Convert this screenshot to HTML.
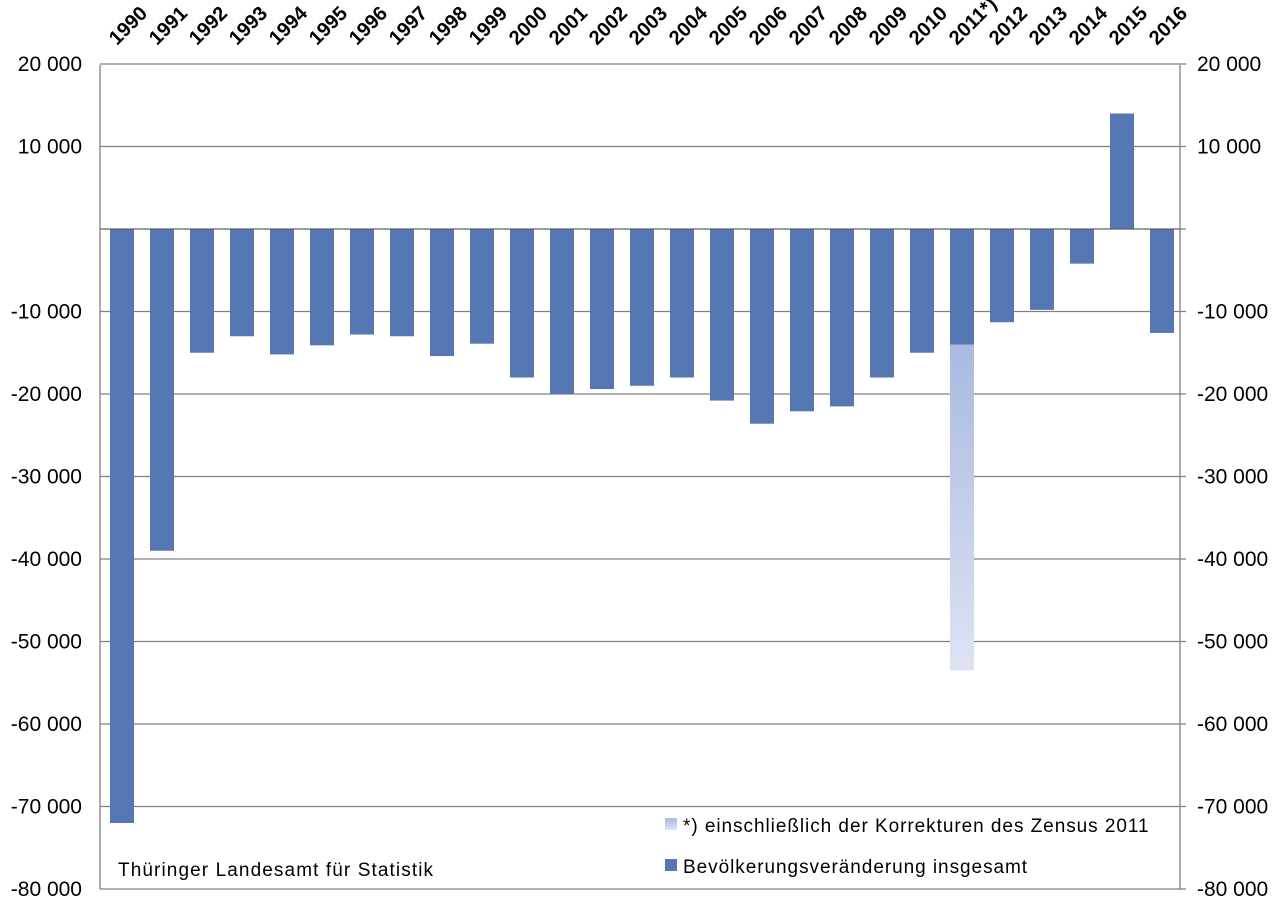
<!DOCTYPE html>
<html><head><meta charset="utf-8"><style>
html,body{margin:0;padding:0;background:#fff;}
svg{display:block;font-family:"Liberation Sans",Arial,sans-serif;}
</style></head><body>
<svg width="1280" height="913" viewBox="0 0 1280 913" xmlns="http://www.w3.org/2000/svg">
<defs>
<linearGradient id="g" x1="0" y1="0" x2="0" y2="1">
<stop offset="0" stop-color="#a9b9e0"/><stop offset="1" stop-color="#dde3f2"/>
</linearGradient>
</defs>
<g stroke="#808080" stroke-width="1.3" id="grid">
<line x1="100" y1="65" x2="100" y2="889"/>
<line x1="1180" y1="65" x2="1180" y2="889"/>
</g>
<g id="bars" fill="#5577b4"></g>
<line x1="100" y1="229" x2="1180" y2="229" stroke="#606060" stroke-width="1.3"/>
<g font-size="21" fill="#000" text-anchor="end" id="ly"></g>
<g font-size="21" fill="#000" text-anchor="start" id="ry"></g>
<g font-size="20" font-weight="bold" fill="#000" id="xl"></g>
<text x="118" y="876" font-size="19" letter-spacing="1.1" fill="#000">Thüringer Landesamt für Statistik</text>
<rect x="665" y="818" width="12" height="12" fill="url(#g)"/>
<text x="683" y="832" font-size="19" letter-spacing="0.95">*) einschließlich der Korrekturen des Zensus 2011</text>
<rect x="665" y="859" width="12" height="12" fill="#5577b4"/>
<text x="683" y="873" font-size="19" letter-spacing="0.95">Bevölkerungsveränderung insgesamt</text>
<script>
var ns="http://www.w3.org/2000/svg";
function Y(v){return 229-v*0.00825;}
function el(tag,attrs,parent){var e=document.createElementNS(ns,tag);for(var k in attrs)e.setAttribute(k,attrs[k]);parent.appendChild(e);return e;}
var grid=document.getElementById('grid');
for(var v=20000;v>=-80000;v-=10000){if(v==0)continue;var y=Y(v);
el('line',{x1:100,y1:y,x2:1180,y2:y},grid);el('line',{x1:1180,y1:y,x2:1186,y2:y},grid);}
el('line',{x1:1180,y1:229,x2:1186,y2:229},grid);
var vals=[-72000,-39000,-15000,-13000,-15200,-14100,-12800,-13000,-15400,-13900,-18000,-20000,-19400,-19000,-18000,-20800,-23600,-22100,-21500,-18000,-15000,-14000,-11300,-9800,-4200,14000,-12600];
var bars=document.getElementById('bars');
vals.forEach(function(v,i){var cx=122+40*i;var y0=Y(Math.max(v,0)),y1=Y(Math.min(v,0));el('rect',{x:cx-12,y:y0,width:24,height:y1-y0},bars);
if(i==21){el('rect',{x:cx-12,y:Y(-14000),width:24,height:Y(-53500)-Y(-14000),fill:'url(#g)'},bars);}});
var ly=document.getElementById('ly'),ry=document.getElementById('ry');
for(var v=20000;v>=-80000;v-=10000){if(v==0)continue;var s=(v<0?'-':'')+Math.abs(v/1000)+' 000';
el('text',{x:82,y:Y(v)+7},ly).textContent=s;
el('text',{x:1197,y:Y(v)+7},ry).textContent=s;}
var xl=document.getElementById('xl');
for(var i=0;i<27;i++){var yr=1990+i;var x=117+40*i,y=46;
el('text',{transform:'translate('+x+','+y+') rotate(-45)'},xl).textContent=yr+(yr==2011?'*)':'');}
</script>
</svg>
</body></html>
